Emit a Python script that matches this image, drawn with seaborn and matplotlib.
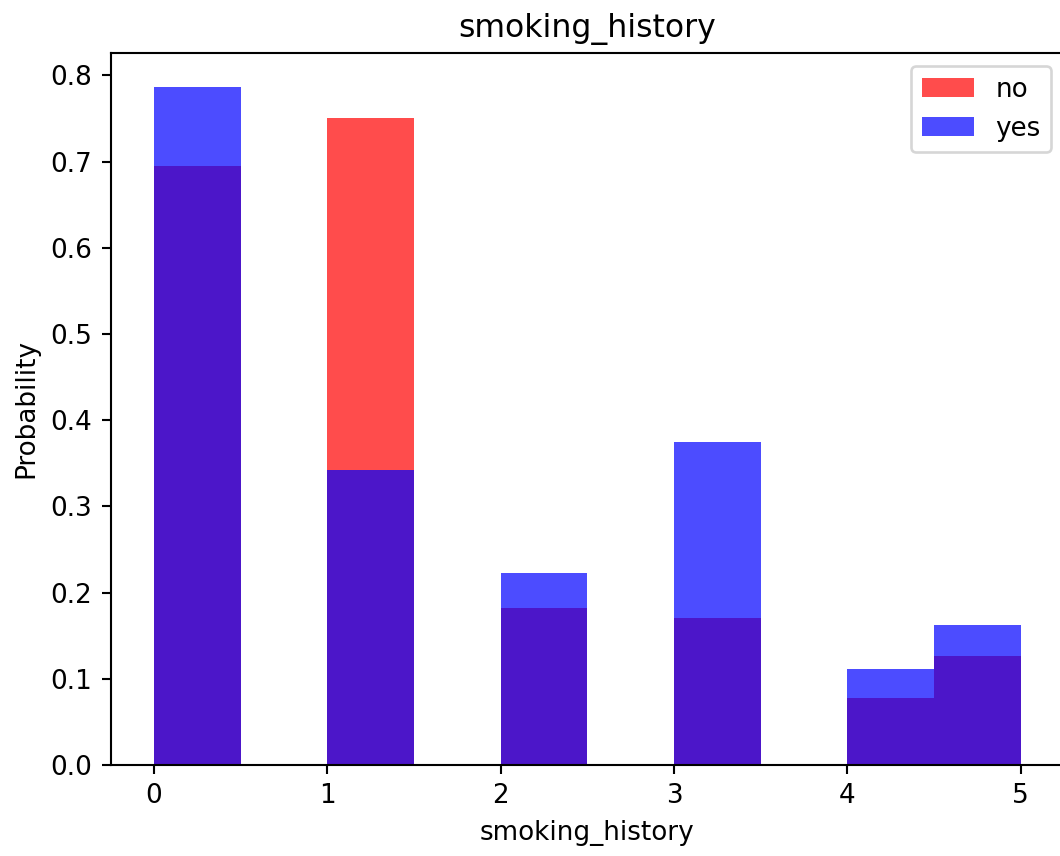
import numpy as np
import seaborn as sns
import matplotlib.pyplot as plt

# bin edges (10 bins over 0..5) and density heights
bin_edges = [0.0, 0.5, 1.0, 1.5, 2.0, 2.5, 3.0, 3.5, 4.0, 4.5, 5.0]
bin_left = [0.0, 1.0, 2.0, 3.0, 4.0, 4.5]
density_no = [0.695, 0.750, 0.182, 0.170, 0.078, 0.127]
density_yes = [0.787, 0.342, 0.223, 0.375, 0.111, 0.162]

DPI = 189
fig = plt.figure(figsize=(1060 / DPI, 856 / DPI), dpi=DPI)
ax = fig.add_axes([0.1043, 0.1063, 0.8995, 0.8318])

centers = [b + 0.25 for b in bin_left]
sns.histplot(x=centers, weights=density_no, bins=bin_edges, stat="count",
             color="red", alpha=0.7, edgecolor=None, linewidth=0,
             label="no", ax=ax)
sns.histplot(x=centers, weights=density_yes, bins=bin_edges, stat="count",
             color="blue", alpha=0.7, edgecolor=None, linewidth=0,
             label="yes", ax=ax)

ax.set_xlim(-0.25, 5.25)
ax.set_ylim(0, 0.826)
ax.set_title("smoking_history")
ax.set_xlabel("smoking_history")
ax.set_ylabel("Probability")
ax.legend(loc="upper right")

fig.savefig("out.png", dpi=DPI)
